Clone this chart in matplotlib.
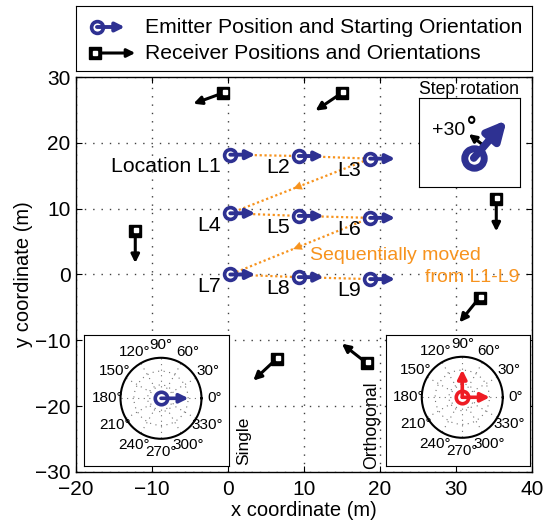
import matplotlib
matplotlib.use('Agg')
import matplotlib.pyplot as plt
import numpy as np
from matplotlib.transforms import offset_copy

plt.rcParams['font.family'] = ['Liberation Sans', 'DejaVu Sans']

# emitter locations L1..L9 (m)
emit_x = [0.3, 9.3, 18.7, 0.3, 9.3, 18.7, 0.3, 9.3, 18.7]
emit_y = [18.2, 18.0, 17.6, 9.3, 8.9, 8.6, 0.0, -0.4, -0.7]
loc_labels = ['Location L1', 'L2', 'L3', 'L4', 'L5', 'L6', 'L7', 'L8', 'L9']

# receivers (m) and their orientation (deg)
rec_x = [-0.6, 15.0, -12.2, 35.3, 33.1, 6.4, 18.3]
rec_y = [27.6, 27.6, 6.6, 11.4, -3.5, -12.8, -13.5]
rec_ang = [200, 214, 270, 270, 231, 223, 142]

xticks = [-20, -10, 0, 10, 20, 30, 40]
yticks = [-30, -20, -10, 0, 10, 20, 30]
polar_deg = list(range(0, 360, 30))

blue = '#2e3192'
red = '#ee1c24'
orange = '#f7931e'

fig = plt.figure(figsize=(5.6, 5.26), dpi=100)
ax = fig.add_axes([0.1357, 0.1027, 0.8143, 0.7509])
ax.set_xlim(-20, 40)
ax.set_ylim(-30, 30)
ax.set_xticks(xticks)
ax.set_yticks(yticks)
ax.tick_params(direction='in', length=4, top=True, right=True, labelsize=15)
ax.tick_params(axis='x', pad=6)
ax.tick_params(axis='y', pad=4)
ax.grid(True, color='0.25', linestyle=(0, (1, 5)), linewidth=1)
for s in ax.spines.values():
    s.set_linewidth(1)
ax.set_xlabel('x coordinate (m)', fontsize=14.5, labelpad=1)
ax.set_ylabel('y coordinate (m)', fontsize=14.5, labelpad=1)


def arrow_from(a, x, y, ang, length, color, lw, ms, z):
    # arrow starting at (x, y) with fixed length in points
    dx = length * np.cos(np.radians(ang))
    dy = length * np.sin(np.radians(ang))
    tr = offset_copy(a.transData, fig=fig, x=dx, y=dy, units='points')
    a.annotate('', xy=(x, y), xycoords=tr, xytext=(x, y), textcoords='data',
               arrowprops=dict(arrowstyle='-|>', color=color, lw=lw,
                               mutation_scale=ms, shrinkA=0, shrinkB=0),
               zorder=z)


def emitter(a, x, y, color, ang=0, length=18, lw=2.8, ms=13, size=8.5, mew=2.6):
    a.plot([x], [y], 'o', ms=size, mfc='white', mec=color, mew=mew, zorder=5)
    arrow_from(a, x, y, ang, length, color, lw, ms, 6)


def receiver(a, x, y, ang, length=23):
    arrow_from(a, x, y, ang, length, 'black', 2.2, 12, 5)
    a.plot([x], [y], 's', ms=8, color='black', zorder=6)
    a.plot([x + 0.15], [y + 0.15], 's', ms=2.5, color='white', zorder=7)


# movement path
ax.plot(emit_x, emit_y, color=orange, linestyle=(0, (1, 1.2)), lw=1.6, zorder=3)
for i in [2, 5]:
    x0, y0 = emit_x[i], emit_y[i]
    x1, y1 = emit_x[i + 1], emit_y[i + 1]
    p = (x0 + 0.46 * (x1 - x0), y0 + 0.46 * (y1 - y0))
    q = (x0 + 0.55 * (x1 - x0), y0 + 0.55 * (y1 - y0))
    ax.annotate('', xy=q, xytext=p,
                arrowprops=dict(arrowstyle='-|>', color=orange, lw=0.1,
                                mutation_scale=15, shrinkA=0, shrinkB=0))

for x, y, lab in zip(emit_x, emit_y, loc_labels):
    emitter(ax, x, y, blue)
    ax.text(x - 1.2, y - 1.8, lab, fontsize=15.3, ha='right', va='center')

for x, y, a in zip(rec_x, rec_y, rec_ang):
    receiver(ax, x, y, a)

ax.text(10.8, 2.9, 'Sequentially moved', color=orange, fontsize=14, va='center')
ax.text(25.9, -0.5, 'from L1-L9', color=orange, fontsize=14, va='center')
ax.text(2.0, -28.9, 'Single', rotation=90, fontsize=12.5, ha='center', va='bottom')
ax.text(18.9, -29.5, 'Orthogonal', rotation=90, fontsize=12.7, ha='center', va='bottom')

# legend box
lg = fig.add_axes([0.1357, 0.865, 0.8143, 0.1236])
lg.set_xlim(0, 456)
lg.set_ylim(0, 65)
lg.set_xticks([])
lg.set_yticks([])
emitter(lg, 21, 44, blue, length=20)
receiver(lg, 19, 18, 0, length=29)
lg.text(69, 44, 'Emitter Position and Starting Orientation', fontsize=15.2, va='center')
lg.text(69, 18, 'Receiver Positions and Orientations', fontsize=15.2, va='center')

# step rotation inset
st = fig.add_axes([0.748, 0.6445, 0.180, 0.169])
st.set_xlim(0, 101)
st.set_ylim(0, 89)
st.set_xticks([])
st.set_yticks([])
st.set_title('Step rotation', fontsize=12.7, pad=2)
st.plot([55], [29], 'o', ms=14, mfc='white', mec=blue, mew=5, zorder=5)
st.annotate('', xy=(88, 67), xytext=(55, 29),
            arrowprops=dict(arrowstyle='-|>', color=blue, lw=5.5,
                            mutation_scale=28, shrinkA=0, shrinkB=0), zorder=6)
st.annotate('', xy=(50, 53), xytext=(63, 43),
            arrowprops=dict(arrowstyle='-|>', color='black', lw=2.2,
                            mutation_scale=11, shrinkA=0, shrinkB=0))
st.text(13, 57, '+30', fontsize=14, va='center')
st.text(48, 61, '°', fontsize=17, fontweight='bold', va='center')


# polar insets
def polar_inset(box, pos, arrows, color):
    b = fig.add_axes(box)
    b.set_xticks([])
    b.set_yticks([])
    pa = fig.add_axes(pos, polar=True)
    pa.set_ylim(0, 1)
    pa.set_thetagrids(polar_deg, [f'{d}°' for d in polar_deg], fontsize=11)
    pa.set_rgrids([0.33, 0.67], labels=[])
    pa.grid(True, color='0.45', linestyle=(0, (1, 4)), linewidth=0.8)
    pa.tick_params(axis='x', pad=-1)
    pa.spines['polar'].set_linewidth(1.5)
    pa.plot([0], [0], 'o', ms=9, mfc='white', mec=color, mew=2.6, zorder=5)
    for ang in arrows:
        pa.annotate('', xy=(np.radians(ang), 0.68), xytext=(0, 0),
                    arrowprops=dict(arrowstyle='-|>', color=color, lw=2.6,
                                    mutation_scale=13, shrinkA=0, shrinkB=0),
                    zorder=6)


polar_inset([0.150, 0.114, 0.259, 0.249], [0.2152, 0.1658, 0.1446, 0.154], [0], blue)
polar_inset([0.689, 0.114, 0.257, 0.249], [0.7532, 0.1677, 0.1446, 0.154], [0, 90], red)

fig.savefig('out.png', dpi=100)
